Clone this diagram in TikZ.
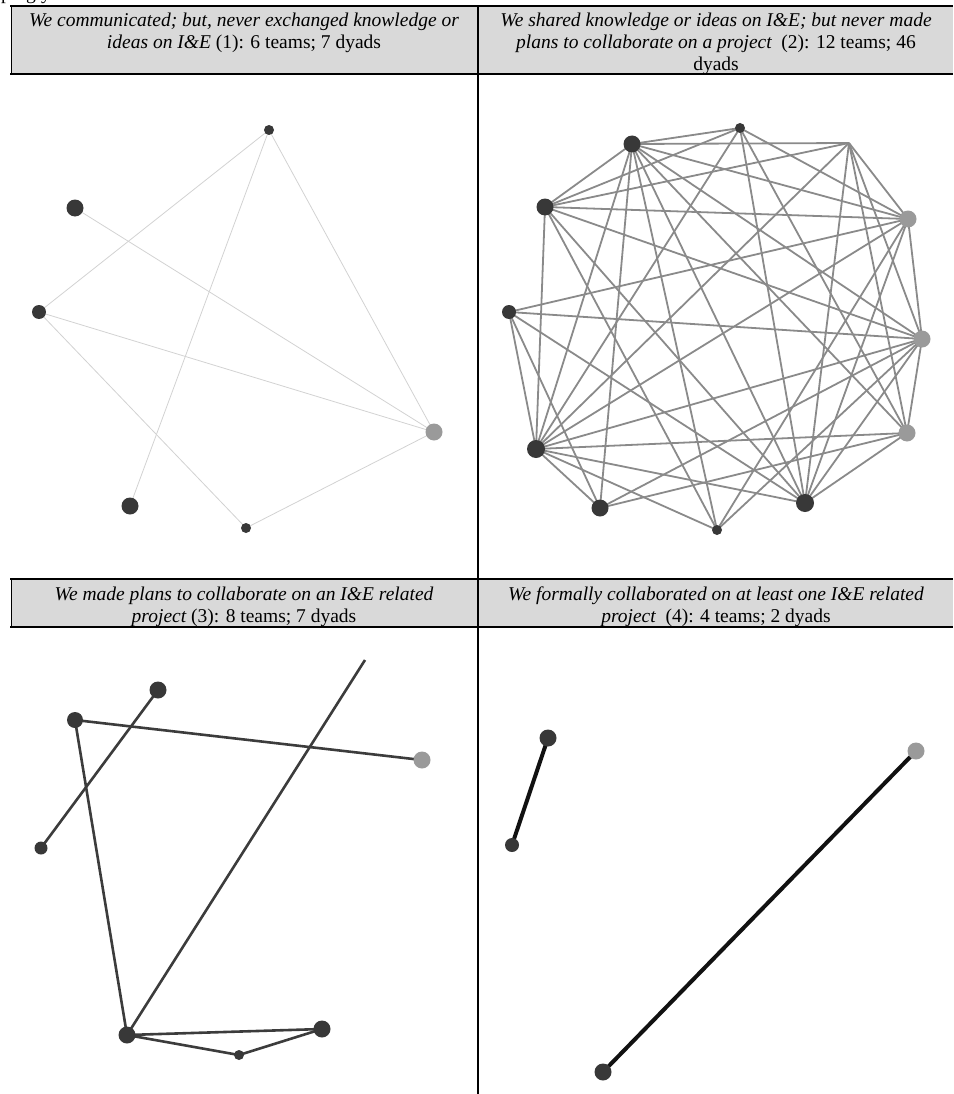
\documentclass[tikz,border=0pt]{standalone}
\usepackage{fontspec}
\setmainfont{Liberation Serif}
\definecolor{hdrgray}{HTML}{D9D9D9}
\definecolor{nodedark}{HTML}{383838}
\definecolor{nodegray}{HTML}{9A9A9A}
\definecolor{edgeone}{HTML}{D2D2D2}
\definecolor{edgetwo}{HTML}{8A8A8A}
\definecolor{edgethree}{HTML}{3C3C3C}
\definecolor{edgefour}{HTML}{111111}
\begin{document}
\begin{tikzpicture}[x=1pt,y=-1pt,
  hdr/.style={font=\fontsize{19.5}{22}\selectfont, anchor=base, inner sep=0pt},
  dk/.style={circle, fill=nodedark, inner sep=0pt, minimum size=#1},
  gy/.style={circle, fill=nodegray, inner sep=0pt, minimum size=#1},
  eone/.style={draw=edgeone, line width=0.8pt},
  etwo/.style={draw=edgetwo, line width=1.8pt},
  ethree/.style={draw=edgethree, line width=2.6pt},
  efour/.style={draw=edgefour, line width=4pt},
  rule/.style={draw=black, line width=1.6pt}
]
\useasboundingbox (0,0) rectangle (953,1094);
% top fragments of cut-off text
\begin{scope}
\clip (0,0) rectangle (953,6);
\node[hdr] (fragp) at (6,0) {p};
\node[hdr] (fragg) at (31,0) {g};
\node[hdr] (fragy) at (46,0) {y};
\end{scope}
% header backgrounds
\fill[hdrgray] (11,6) rectangle (953,74);
\fill[hdrgray] (11,579) rectangle (953,627);
% rules
\draw[rule] (10,6) -- (953,6);
\draw[rule] (10,74) -- (953,74);
\draw[rule] (10,579) -- (953,579);
\draw[rule] (10,627) -- (953,627);
\draw[draw=black, line width=1pt] (11,6) -- (11,74);
\draw[draw=black, line width=1pt] (11,579) -- (11,627);
\draw[draw=black, line width=1.6pt] (478,6) -- (478,1094);
% header texts
\node[hdr] (h1a) at (244,27) {\itshape We communicated; but, never exchanged knowledge or};
\node[hdr] (h1b) at (244,49) {\itshape ideas on I\&E\upshape\ (1): 6 teams; 7 dyads};
\node[hdr] (h2a) at (716,27) {\itshape We shared knowledge or ideas on I\&E; but never made};
\node[hdr] (h2b) at (716,49) {\itshape plans to collaborate on a project\upshape\ \ (2): 12 teams; 46};
\node[hdr] (h2c) at (716,71) {dyads};
\node[hdr] (h3a) at (244,600) {\itshape We made plans to collaborate on an I\&E related};
\node[hdr] (h3b) at (244,622) {\itshape project\upshape\ (3): 8 teams; 7 dyads};
\node[hdr] (h4a) at (716,600) {\itshape We formally collaborated on at least one I\&E related};
\node[hdr] (h4b) at (716,622) {\itshape project\upshape\ \ (4): 4 teams; 2 dyads};

% ---------- panel 1 ----------
\coordinate (a1) at (269,130);
\coordinate (a2) at (75,208);
\coordinate (a3) at (39,312);
\coordinate (a4) at (434,432);
\coordinate (a5) at (130,506);
\coordinate (a6) at (246,528);
\foreach \u/\v in {a1/a3, a1/a5, a1/a4, a2/a4, a3/a4, a3/a6, a6/a4}
  \draw[eone] (\u) -- (\v);
\node[dk=10pt] (A1) at (a1) {};
\node[dk=17pt] (A2) at (a2) {};
\node[dk=14pt] (A3) at (a3) {};
\node[gy=17pt] (A4) at (a4) {};
\node[dk=17pt] (A5) at (a5) {};
\node[dk=10pt] (A6) at (a6) {};

% ---------- panel 2 ----------
\coordinate (n1) at (632,144);
\coordinate (n2) at (740,128);
\coordinate (n3) at (849,143);
\coordinate (n4) at (545,207);
\coordinate (n5) at (908,219);
\coordinate (n6) at (509,312);
\coordinate (n7) at (922,339);
\coordinate (n8) at (907,433);
\coordinate (n9) at (536,449);
\coordinate (n10) at (600,508);
\coordinate (n11) at (805,503);
\coordinate (n12) at (717,530);
\foreach \u/\v in {n1/n2,n1/n3,n1/n4,n1/n5,n1/n7,n1/n8,n1/n9,n1/n10,n1/n11,n1/n12,
  n2/n4,n2/n5,n2/n8,n2/n9,n2/n11,
  n3/n4,n3/n5,n3/n7,n3/n8,n3/n9,n3/n11,
  n4/n5,n4/n7,n4/n9,n4/n11,n4/n12,
  n5/n6,n5/n7,n5/n9,n5/n11,n5/n12,
  n6/n7,n6/n9,n6/n10,n6/n11,
  n7/n8,n7/n9,n7/n10,n7/n11,n7/n12,
  n8/n9,n8/n10,n8/n11,
  n9/n10,n9/n11,n9/n12}
  \draw[etwo] (\u) -- (\v);
\node[dk=17pt] (N1) at (n1) {};
\node[dk=10pt] (N2) at (n2) {};
\node[dk=17pt] (N4) at (n4) {};
\node[gy=17pt] (N5) at (n5) {};
\node[dk=14pt] (N6) at (n6) {};
\node[gy=17pt] (N7) at (n7) {};
\node[gy=17pt] (N8) at (n8) {};
\node[dk=18pt] (N9) at (n9) {};
\node[dk=17pt] (N10) at (n10) {};
\node[dk=18pt] (N11) at (n11) {};
\node[dk=10pt] (N12) at (n12) {};

% ---------- panel 3 ----------
\coordinate (p1) at (158,690);
\coordinate (p2) at (75,720);
\coordinate (p3) at (422,760);
\coordinate (p4) at (41,848);
\coordinate (p5) at (365,660);
\coordinate (p6) at (127,1035);
\coordinate (p7) at (322,1029);
\coordinate (p8) at (239,1055);
\foreach \u/\v in {p1/p4, p2/p3, p2/p6, p6/p5, p6/p7, p6/p8, p8/p7}
  \draw[ethree] (\u) -- (\v);
\node[dk=17pt] (P1) at (p1) {};
\node[dk=16pt] (P2) at (p2) {};
\node[gy=17pt] (P3) at (p3) {};
\node[dk=13pt] (P4) at (p4) {};
\node[dk=17pt] (P6) at (p6) {};
\node[dk=17pt] (P7) at (p7) {};
\node[dk=10pt] (P8) at (p8) {};

% ---------- panel 4 ----------
\coordinate (q1) at (548,738);
\coordinate (q2) at (512,845);
\coordinate (q3) at (916,751);
\coordinate (q4) at (603,1072);
\draw[efour] (q1) -- (q2);
\draw[efour] (q3) -- (q4);
\node[dk=17pt] (Q1) at (q1) {};
\node[dk=14pt] (Q2) at (q2) {};
\node[gy=17pt] (Q3) at (q3) {};
\node[dk=17pt] (Q4) at (q4) {};
\end{tikzpicture}
\end{document}
